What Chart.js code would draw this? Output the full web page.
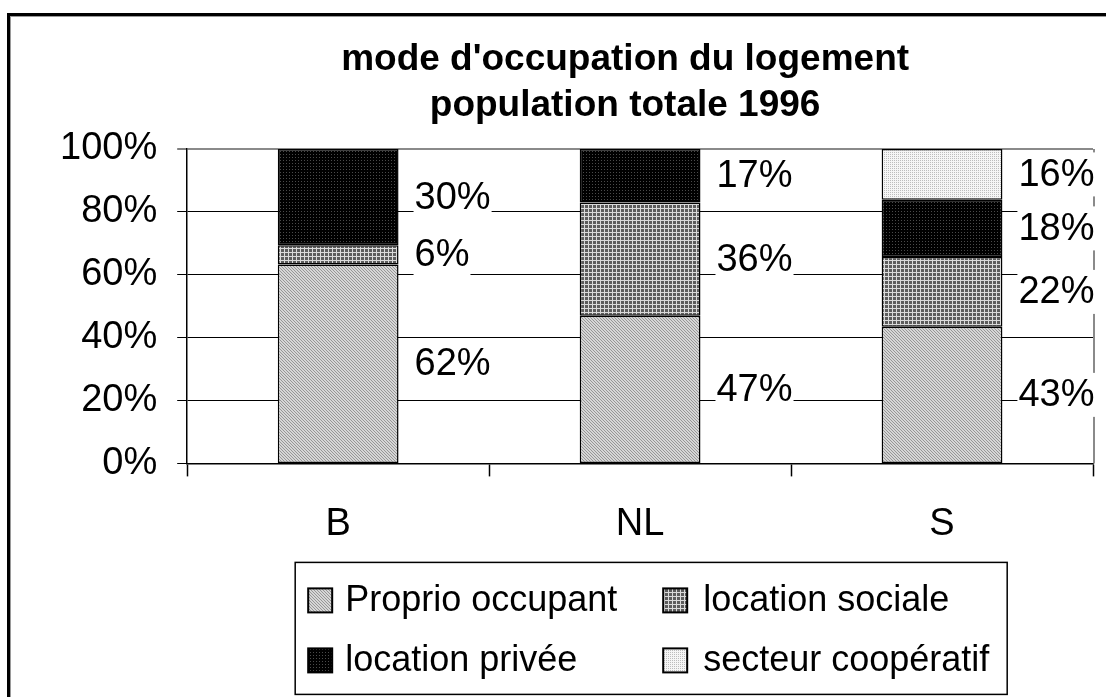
<!DOCTYPE html>
<html>
<head>
<meta charset="utf-8">
<script src="https://cdn.jsdelivr.net/npm/chart.js@4.4.0/dist/chart.umd.min.js"></script>
<style>
html, body { margin: 0; padding: 0; background: #fff; overflow: hidden; }
</style>
</head>
<body>
<canvas id="myChart" width="1106" height="697"></canvas>
<script>
// data (raw % per region, stacked to 100%)
var categories = ['B', 'NL', 'S'];
var proprio = [62, 47, 43];
var sociale = [6, 36, 22];
var privee = [30, 17, 18];
var cooperatif = [null, null, 16];
var seriesNames = ['Proprio occupant', 'location sociale', 'location privée', 'secteur coopératif'];
var yTickValues = [0, 20, 40, 60, 80, 100];
var titleLines = ["mode d'occupation du logement", 'population totale 1996'];

var family = "'Liberation Sans', Arial, sans-serif";
Chart.defaults.font.family = family;
Chart.defaults.color = '#000';

var canvas = document.getElementById('myChart');
var ctx0 = canvas.getContext('2d');

// little bitmap tiles to imitate the Excel fill patterns
function makePattern(size, bg, fg, cells) {
    var t = document.createElement('canvas');
    t.width = size; t.height = size;
    var g = t.getContext('2d');
    g.fillStyle = bg;
    g.fillRect(0, 0, size, size);
    g.fillStyle = fg;
    cells.forEach(function (c) { g.fillRect(c[0], c[1], 1, 1); });
    return ctx0.createPattern(t, 'repeat');
}

var fills = [
    makePattern(3, '#d6d6d6', '#969696', [[0, 0], [1, 1], [2, 2]]),
    makePattern(4, '#5c5c5c', '#dadada', [[0, 0], [1, 0], [2, 0], [3, 0], [0, 1], [0, 2], [0, 3]]),
    makePattern(3, '#000000', '#4a4a4a', [[1, 1]]),
    makePattern(2, '#f6f6f6', '#bdbdbd', [[0, 0]])
];

var raw = [proprio, sociale, privee, cooperatif];
var totals = categories.map(function (c, i) {
    return raw.reduce(function (s, arr) { return s + (arr[i] || 0); }, 0);
});

var datasets = raw.map(function (arr, k) {
    return {
        label: seriesNames[k],
        raw: arr,
        data: arr.map(function (v, i) { return v == null ? null : v / totals[i] * 100; }),
        backgroundColor: fills[k],
        borderColor: '#000',
        borderWidth: 1.5,
        borderSkipped: false,
        categoryPercentage: 1,
        barPercentage: 0.4
    };
});

// frame round the whole picture + right edge of plot area
var framePlugin = {
    id: 'framePlugin',
    beforeDraw: function (chart) {
        var c = chart.ctx;
        c.save();
        c.fillStyle = '#fff';
        c.fillRect(0, 0, chart.width, chart.height);
        c.fillStyle = '#000';
        c.fillRect(7, 13, 3, chart.height);
        c.fillRect(7, 13, chart.width, 3);
        c.fillStyle = '#9a9a9a';
        c.fillRect(10, 16, 1, chart.height);
        c.fillRect(10, 16, chart.width, 1);
        c.restore();
    },
    beforeDatasetsDraw: function (chart) {
        var c = chart.ctx, a = chart.chartArea;
        c.save();
        c.strokeStyle = '#8a8a8a';
        c.lineWidth = 2;
        c.beginPath();
        c.moveTo(a.right + 1, a.top);
        c.lineTo(a.right + 1, a.bottom);
        c.stroke();
        c.restore();
    }
};

var titlePlugin = {
    id: 'titlePlugin',
    afterDraw: function (chart) {
        var c = chart.ctx, a = chart.chartArea;
        c.save();
        c.font = 'bold 37px ' + family;
        c.textAlign = 'center';
        c.textBaseline = 'alphabetic';
        c.fillStyle = '#000';
        var cx = (a.left + a.right) / 2 - 15;
        titleLines.forEach(function (t, i) {
            c.fillText(t, cx, a.top - 79 + i * 46);
        });
        c.restore();
    }
};

// value labels right of each segment, on a white box that cuts the grid
var valueLabels = {
    id: 'valueLabels',
    afterDatasetsDraw: function (chart) {
        var c = chart.ctx;
        c.save();
        c.font = '38px ' + family;
        c.textBaseline = 'middle';
        c.textAlign = 'left';
        chart.data.datasets.forEach(function (ds, i) {
            var meta = chart.getDatasetMeta(i);
            meta.data.forEach(function (bar, j) {
                var v = ds.raw[j];
                if (v == null) return;
                var txt = v + '%';
                var x = bar.x + bar.width / 2 + 16;
                var y = (bar.y + bar.base) / 2;
                var w = c.measureText(txt).width;
                c.fillStyle = '#fff';
                c.fillRect(x - 1, y - 22, w + 2, 44);
                c.fillStyle = '#000';
                c.fillText(txt, x, y + 1);
            });
        });
        c.restore();
    }
};

var boxLegend = {
    id: 'boxLegend',
    afterDraw: function (chart) {
        var c = chart.ctx, a = chart.chartArea;
        var left = a.left + 108, top = a.bottom + 99, w = 712, h = 132;
        c.save();
        c.fillStyle = '#fff';
        c.fillRect(left, top, w, h);
        c.strokeStyle = '#000';
        c.lineWidth = 1.5;
        c.strokeRect(left, top, w, h);
        c.font = '36px ' + family;
        c.textBaseline = 'middle';
        chart.data.datasets.forEach(function (ds, i) {
            var col = i % 2, row = Math.floor(i / 2);
            var sx = left + 13 + col * 355, sy = top + 38 + row * 60;
            c.fillStyle = ds.backgroundColor;
            c.fillRect(sx, sy - 12, 24, 24);
            c.strokeStyle = '#000';
            c.lineWidth = 2;
            c.strokeRect(sx, sy - 12, 24, 24);
            c.fillStyle = '#000';
            c.fillText(ds.label, sx + 37 + col * 3, sy + 1);
        });
        c.restore();
    }
};

var myChart = new Chart(canvas, {
    type: 'bar',
    data: {
        labels: categories,
        datasets: datasets
    },
    plugins: [framePlugin, titlePlugin, valueLabels, boxLegend],
    options: {
        responsive: false,
        animation: false,
        layout: {
            padding: { left: 40, right: 13, top: 149, bottom: 125 }
        },
        plugins: {
            legend: { display: false },
            title: { display: false },
            tooltip: { enabled: false }
        },
        scales: {
            x: {
                stacked: true,
                offset: true,
                grid: {
                    offset: true,
                    drawOnChartArea: false,
                    drawTicks: true,
                    tickLength: 13,
                    tickColor: '#000',
                    tickWidth: 1.5
                },
                border: { color: '#000', width: 1.5 },
                ticks: { font: { size: 38 }, padding: 25, color: '#000' }
            },
            y: {
                stacked: true,
                min: 0,
                max: 100,
                afterBuildTicks: function (axis) {
                    axis.ticks = yTickValues.map(function (v) { return { value: v }; });
                },
                grid: {
                    color: function (ctx) { return ctx.tick && ctx.tick.value === 100 ? '#8a8a8a' : '#000'; },
                    lineWidth: function (ctx) { return ctx.tick && ctx.tick.value === 100 ? 2 : 1; },
                    tickColor: '#000',
                    tickLength: 10,
                    tickWidth: 1
                },
                border: { color: '#000', width: 1.5 },
                ticks: {
                    font: { size: 38 },
                    padding: 20,
                    color: '#000',
                    callback: function (v) { return v + '%'; }
                }
            }
        }
    }
});
</script>
</body>
</html>
